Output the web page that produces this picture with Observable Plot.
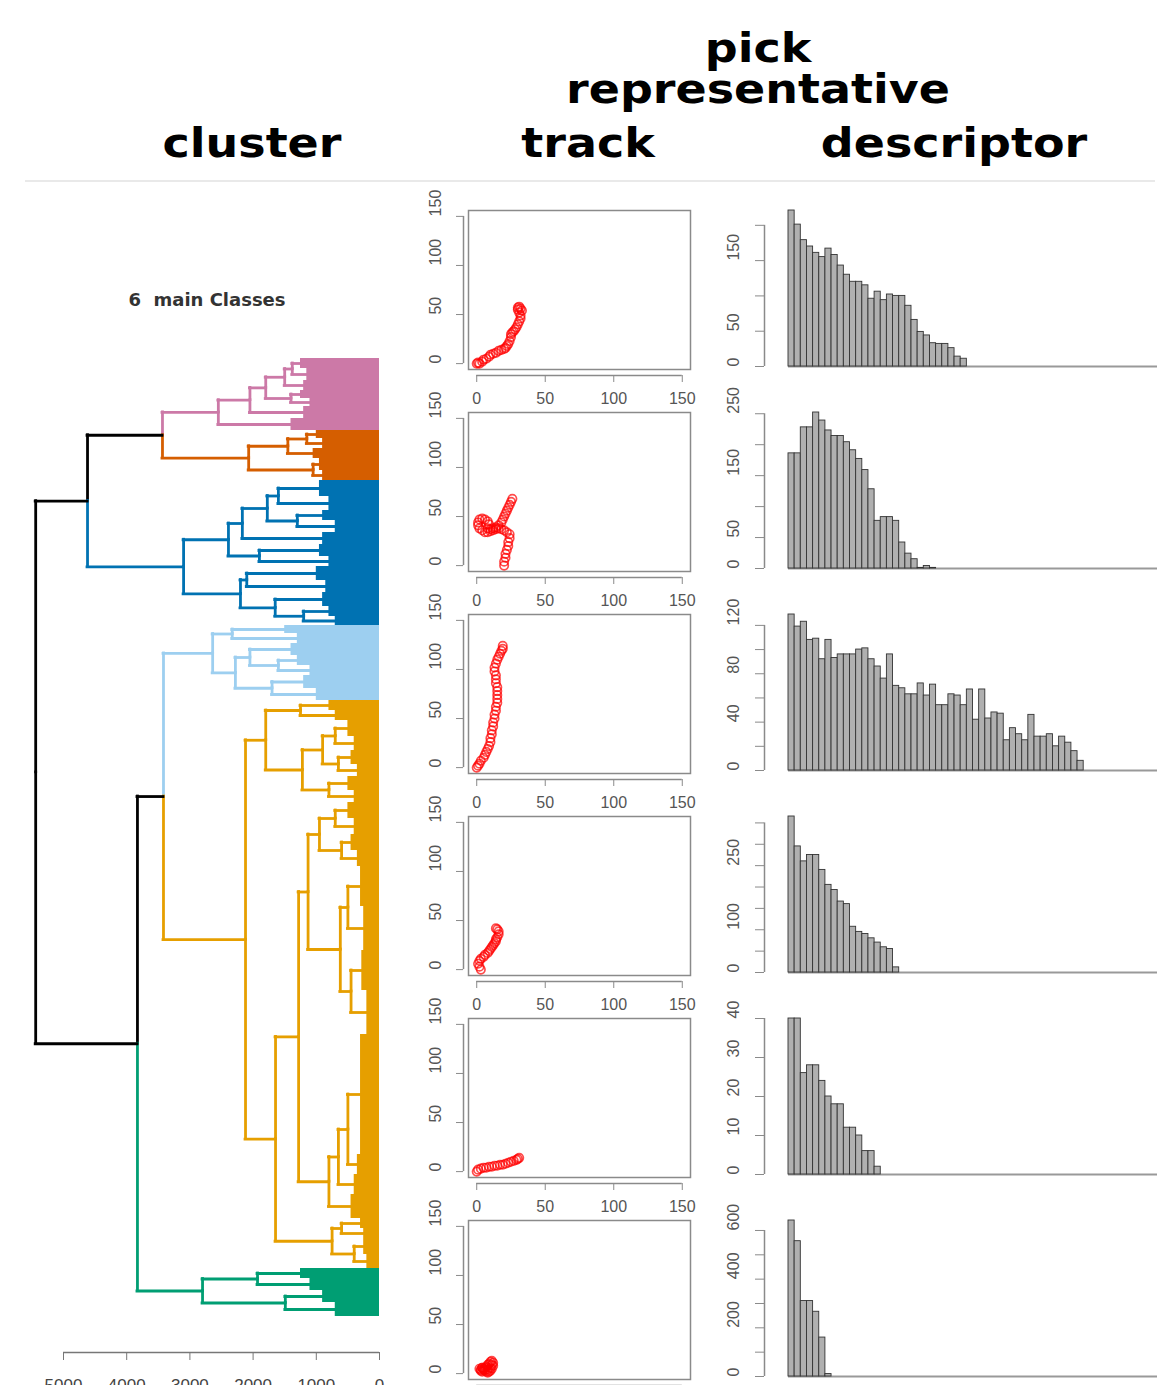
<!DOCTYPE html>
<html><head><meta charset="utf-8">
<script src="https://cdn.jsdelivr.net/npm/d3@7"></script>
<script src="https://cdn.jsdelivr.net/npm/@observablehq/plot@0.6"></script>
<style>
html,body{margin:0;padding:0;background:#fff;}
#page{position:relative;width:1157px;height:1385px;overflow:hidden;background:#fff;}
.hdr{position:absolute;width:500px;font-family:"DejaVu Sans",sans-serif;font-weight:bold;font-size:46px;line-height:38px;color:#000;text-align:center;white-space:nowrap;transform:scaleY(0.88);transform-origin:50% 35px;}
.sub{position:absolute;width:300px;font-family:"DejaVu Sans",sans-serif;font-weight:bold;font-size:18px;line-height:20px;color:#333;text-align:center;white-space:pre;}
.rule{position:absolute;left:25px;top:180px;width:1130px;height:2px;background:#e9e9e9;}
.panel{position:absolute;}
.panel svg{overflow:visible;background:transparent;}
</style></head><body><div id="page"></div>
<script>
// ---------------- DATA ----------------
// dendrogram: internal node = [height, upper child, lower child]; leaf bundle = [leaf count, bundle height]
const clusterNames = ["pink", "vermillion", "blue", "skyblue", "orange", "green"];
const clusterColors = ["#CC79A7", "#D55E00", "#0072B2", "#9DCFF0", "#E69F00", "#009E73"];
const pinkTree = [2550, [2050, [1800, [1500, [1380, [10, 1250], [12, 1150]], [10, 1200]], [1400, [8, 1250], [8, 1100]]], [12, 1200]], [12, 1400]];
const vermillionTree = [2070, [1450, [1150, [8, 1000], [10, 900]], [10, 1050]], [1050, [12, 950], [10, 900]]];
const blueTree = [3100, [2390, [2170, [1775, [1600, [16, 950], [14, 800]], [1300, [10, 900], [12, 700]]], [12, 900]], [1900, [12, 950], [10, 800]]], [2200, [2100, [14, 1000], [12, 850]], [1650, [14, 900], [1200, [10, 800], [9, 700]]]]];
const skyTree = [2640, [2330, [8, 1500], [10, 1300]], [2280, [2050, [12, 1400], [1600, [10, 1300], [10, 1100]]], [1700, [13, 1200], [12, 1000]]]];
const orangeTree = [2120,
  [1800, [1250, [10, 800], [10, 700]], [1220, [900, [700, [16, 500], [14, 400]], [650, [14, 450], [12, 350]]], [800, [14, 500], [12, 400]]]],
  [1645,
    [1280,
      [1130, [950, [700, [16, 500], [16, 400]], [600, [16, 450], [16, 350]]], [620, [500, [40, 300], [44, 250]], [450, [40, 280], [44, 200]]]],
      [800, [650, [500, [120, 300], [20, 350]], [20, 400]], [24, 450]]],
    [750, [600, [10, 300], [10, 250]], [400, [16, 250], [14, 200]]]]];
const greenTree = [2800, [1930, [10, 1250], [12, 1100]], [1490, [12, 900], [14, 700]]];
const clusterTrees = [pinkTree, vermillionTree, blueTree, skyTree, orangeTree, greenTree];
// upper merges, numbers refer to the clusters above
const upperTree = [5440, [4620, [3434, 0, 1], 2], [3830, [3418, 3, 4], 5]];
const heightTicks = [5000, 4000, 3000, 2000, 1000, 0];

// representative tracks (x, y)
const trackX = [
  [0,1,2,4,5,7,9,10,12,14,16,18,20,21,22,23,24,25,25,26,27,28,29,30,31,32,32,31,30,30,31,32,33],
  [20,20,21,21,22,23,23,24,24,22,20,18,16,14,12,10,8,6,4,2,1,1,2,4,6,8,9,8,10,12,14,16,18,19,20,21,22,23,24,25,26],
  [0,1,2,3,5,6,7,8,9,10,10,11,11,12,12,13,13,14,14,15,15,15,15,15,14,14,14,13,13,14,15,16,17,18,19,19],
  [3,2,1,2,3,5,6,8,9,10,11,12,13,14,14,15,16,16,15,14],
  [0,1,3,5,7,9,11,13,15,17,19,21,23,25,27,29,30,31],
  [2,3,4,5,6,7,8,9,10,11,12,12,11,10,9,8,7,6,5,4,3,4,6,8,10,11]
];
const trackY = [
  [0,1,0,2,4,5,7,9,10,11,13,14,15,16,18,20,23,27,30,32,33,35,37,40,43,46,49,52,55,57,58,56,54],
  [0,4,8,12,16,20,24,28,32,34,36,37,38,37,36,35,34,34,36,38,41,44,47,48,47,45,42,38,37,38,39,41,44,47,50,53,56,59,62,65,68],
  [0,2,4,7,10,13,16,19,22,26,30,34,38,42,46,50,54,58,62,66,70,74,78,82,86,90,94,98,102,106,110,113,116,119,121,124],
  [0,3,6,9,11,13,15,17,19,21,23,25,27,29,31,33,36,39,41,42],
  [0,2,3,4,4,5,5,6,6,7,7,8,9,10,11,12,13,14],
  [5,4,6,5,3,2,1,2,3,5,8,11,13,12,10,9,7,6,4,2,3,6,4,4,6,9]
];
const trackTicks = [0, 50, 100, 150];

// descriptor histograms
const histValues = [
  [221,201,179,170,161,155,167,158,143,130,120,120,115,96,106,94,102,100,100,86,66,49,44,33,32,32,26,14,11],
  [186,186,228,228,252,239,223,214,214,204,191,177,159,128,77,83,83,77,42,24,15,1,4,1],
  [129,119,123,108,109,92,108,93,96,96,96,100,101,92,86,76,96,70,68,63,63,72,62,71,54,54,63,62,54,67,42,67,43,48,47,25,35,30,25,46,28,28,30,20,28,23,16,8],
  [365,295,260,275,275,240,205,193,166,160,107,95,90,80,70,59,55,12],
  [40,40,26,28,28,24,20,18,18,12,12,10,6,6,2],
  [641,556,310,310,266,160,10]
];
const histTicks = [
  [0,50,100,150,200],
  [0,50,100,150,200,250],
  [0,20,40,60,80,100,120],
  [0,50,100,150,200,250,300,350],
  [0,10,20,30,40],
  [0,100,200,300,400,500,600]
];
const histLabels = [
  [0,50,150],
  [0,50,150,250],
  [0,40,80,120],
  [0,100,250],
  [0,10,20,30,40],
  [0,200,400,600]
];
const histBins = 60;

// ---------------- PAGE ----------------
const page = document.getElementById("page");
function addDiv(cls, text, left, top) {
  const d = document.createElement("div");
  d.className = cls; d.textContent = text;
  d.style.left = left + "px"; d.style.top = top + "px";
  page.appendChild(d); return d;
}
addDiv("hdr", "pick", 758 - 250, 27);
addDiv("hdr", "representative", 758 - 250, 68);
addDiv("hdr", "cluster", 252 - 250, 122);
addDiv("hdr", "track", 588 - 250, 122);
addDiv("hdr", "descriptor", 954 - 250, 122);
addDiv("rule", "", 25, 180);
addDiv("sub", "6  main Classes", 207 - 150, 290);

function place(svg, left, top) {
  const d = document.createElement("div");
  d.className = "panel"; d.style.left = left + "px"; d.style.top = top + "px";
  d.appendChild(svg); page.appendChild(d);
}
const svgStyle = {background: "transparent", overflow: "visible", fontFamily: "'Liberation Sans', Arial, sans-serif", fontSize: "16px", color: "#555"};

// ---------------- DENDROGRAM ----------------
const bundles = [], vlines = [], hlines = [];
let cursor = 0;
function lay(node, color) {
  if (typeof node === "number") return lay(clusterTrees[node], clusterColors[node]);
  if (node.length === 2) {
    const [n, h] = node; const y1 = cursor; cursor += n;
    bundles.push({y1, y2: cursor, h, color});
    return {y: (y1 + cursor) / 2, h, color};
  }
  const [h, a, b] = node;
  const A = lay(a, color), B = lay(b, color);
  const mid = (A.y + B.y) / 2;
  for (const C of [A, B]) {
    vlines.push({h, y1: mid, y2: C.y, color: C.color});
    hlines.push({y: C.y, h1: h, h2: C.h, color: C.color});
  }
  return {y: mid, h, color};
}
lay(upperTree, "black");
const leafTotal = cursor;
const axisGap = 36;

const dendro = Plot.plot({
  width: 400, height: 1205,
  marginLeft: 63, marginRight: 21, marginTop: 178, marginBottom: 33,
  style: svgStyle,
  x: {domain: [heightTicks[0], heightTicks[heightTicks.length - 1]], label: null},
  y: {domain: [0, leafTotal + axisGap], reverse: true, axis: null},
  marks: [
    Plot.rect(bundles, {x1: d => d.h, x2: 0, y1: d => d.y1, y2: d => d.y2, fill: d => d.color}),
    Plot.ruleX(vlines, {x: d => d.h, y1: d => d.y1, y2: d => d.y2, stroke: d => d.color, strokeWidth: 2.8, strokeLinecap: "square"}),
    Plot.ruleY(hlines, {y: d => d.y, x1: d => d.h1, x2: d => d.h2, stroke: d => d.color, strokeWidth: 2.8, strokeLinecap: "square"}),
    Plot.ruleY([leafTotal + axisGap], {x1: heightTicks[0], x2: heightTicks[heightTicks.length - 1], stroke: "#777", strokeWidth: 1.5}),
    Plot.axisX({ticks: heightTicks, tickSize: 8, tickPadding: 18, tickFormat: d => String(d), fontSize: 17, stroke: "#777", fill: "#444", label: null})
  ]
});
place(dendro, 0, 180);

// ---------------- TRACKS ----------------
const trackPad = 0.04 * (trackTicks[trackTicks.length - 1] - trackTicks[0]);
const trackDomain = [trackTicks[0] - trackPad, trackTicks[trackTicks.length - 1] + trackPad];
trackX.forEach((xs, i) => {
  const pts = xs.map((x, j) => ({x, y: trackY[i][j]}));
  const chart = Plot.plot({
    width: 300, height: 202, marginLeft: 68, marginRight: 10, marginTop: 20, marginBottom: 23,
    style: svgStyle,
    x: {domain: trackDomain, label: null}, y: {domain: trackDomain, label: null},
    marks: [
      Plot.frame({stroke: "#8a8a8a", strokeWidth: 1.5}),
      Plot.dot(pts, {x: d => d.x, y: d => d.y, r: 4.2, stroke: "#ff0000", strokeOpacity: 0.7, strokeWidth: 1.7, fill: "none"}),
      Plot.ruleY([trackDomain[0]], {x1: trackTicks[0], x2: trackTicks[trackTicks.length - 1], dy: 6, stroke: "#8a8a8a", strokeWidth: 1.5}),
      Plot.axisX({ticks: trackTicks, tickSize: 7, tickPadding: 10, dy: 6, stroke: "#8a8a8a", fill: "#555", fontSize: 16, label: null}),
      Plot.ruleX([trackDomain[0]], {y1: trackTicks[0], y2: trackTicks[trackTicks.length - 1], dx: -5, stroke: "#8a8a8a", strokeWidth: 1.5}),
      Plot.axisY({ticks: trackTicks, tickSize: 7, dx: -5, stroke: "#8a8a8a", tickFormat: () => "", label: null}),
      Plot.text(trackTicks, {frameAnchor: "left", y: d => d, text: d => String(d), rotate: -90, dx: -33, fill: "#555", fontSize: 16})
    ]
  });
  place(chart, 400, 190 + 202 * i);
});

// ---------------- HISTOGRAMS ----------------
histValues.forEach((vals, i) => {
  const bars = vals.map((v, j) => ({j, v}));
  const ticks = histTicks[i];
  const chart = Plot.plot({
    width: 457, height: 202, marginLeft: 88, marginRight: 0, marginTop: 20, marginBottom: 26,
    style: svgStyle,
    x: {domain: [0, histBins], axis: null},
    y: {domain: [0, d3.max(vals)], label: null},
    marks: [
      Plot.ruleY([0], {x1: 0, x2: histBins, stroke: "#999", strokeWidth: 2}),
      Plot.rectY(bars, {x1: d => d.j, x2: d => d.j + 1, y: d => d.v, fill: "#b0b0b0", stroke: "#333", strokeWidth: 0.9}),
      Plot.ruleX([0], {y1: ticks[0], y2: ticks[ticks.length - 1], dx: -24, stroke: "#8a8a8a", strokeWidth: 1.5}),
      Plot.axisY({ticks, tickSize: 9, dx: -24, stroke: "#8a8a8a", tickFormat: () => "", label: null}),
      Plot.text(histLabels[i], {frameAnchor: "left", y: d => d, text: d => String(d), rotate: -90, dx: -55, fill: "#555", fontSize: 16})
    ]
  });
  place(chart, 700, 190 + 202 * i);
});
</script></body></html>
